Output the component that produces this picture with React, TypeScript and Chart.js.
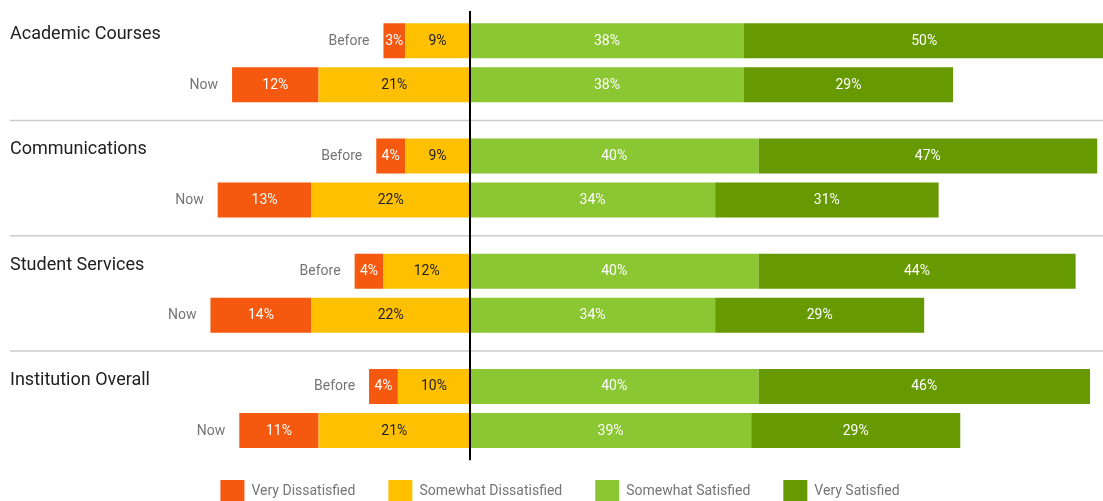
import React, { useEffect, useRef } from "react";
import { Chart, registerables } from "chart.js";

Chart.register(...registerables);

const categories = ["Academic Courses", "Communications", "Student Services", "Institution Overall"];
const periods = ["Before", "Now"];
const legendLabels = ["Very Dissatisfied", "Somewhat Dissatisfied", "Somewhat Satisfied", "Very Satisfied"];

const veryDissatisfiedBefore = [3, 4, 4, 4];
const veryDissatisfiedNow = [12, 13, 14, 11];
const somewhatDissatisfiedBefore = [9, 9, 12, 10];
const somewhatDissatisfiedNow = [21, 22, 22, 21];
const somewhatSatisfiedBefore = [38, 40, 40, 40];
const somewhatSatisfiedNow = [38, 34, 34, 39];
const verySatisfiedBefore = [50, 47, 44, 46];
const verySatisfiedNow = [29, 31, 29, 29];

const COLORS = ["#F4590F", "#FFC000", "#8AC732", "#669A00"];
const TEXT_COLORS = ["#ffffff", "#212121", "#ffffff", "#ffffff"];

function buildDatasets() {
  const series = [
    { cat: 1, before: somewhatDissatisfiedBefore, now: somewhatDissatisfiedNow, neg: true },
    { cat: 0, before: veryDissatisfiedBefore, now: veryDissatisfiedNow, neg: true },
    { cat: 2, before: somewhatSatisfiedBefore, now: somewhatSatisfiedNow, neg: false },
    { cat: 3, before: verySatisfiedBefore, now: verySatisfiedNow, neg: false },
  ];
  const out: any[] = [];
  periods.forEach((p, pi) => {
    series.forEach((s) => {
      const vals = pi === 0 ? s.before : s.now;
      out.push({
        label: legendLabels[s.cat],
        stack: p,
        data: vals.map((v) => (s.neg ? -v : v)),
        backgroundColor: COLORS[s.cat],
        borderWidth: 0,
        clip: false,
        catIndex: s.cat,
        periodIndex: pi,
        labelColor: TEXT_COLORS[s.cat],
      });
    });
  });
  return out;
}

const overlayPlugin = {
  id: "overlay",
  afterDatasetsDraw(chart: any) {
    const ctx = chart.ctx;
    const xs = chart.scales.x;
    const ys = chart.scales.y;
    const band = ys.getPixelForValue(1) - ys.getPixelForValue(0);
    ctx.save();

    // separators
    ctx.strokeStyle = "#cccccc";
    ctx.lineWidth = 1.5;
    for (let i = 0; i < categories.length - 1; i++) {
      const yy = (ys.getPixelForValue(i) + ys.getPixelForValue(i + 1)) / 2;
      ctx.beginPath();
      ctx.moveTo(10, yy);
      ctx.lineTo(chart.width, yy);
      ctx.stroke();
    }

    // group titles
    ctx.font = "18px Roboto";
    ctx.fillStyle = "#212121";
    ctx.textAlign = "left";
    ctx.textBaseline = "middle";
    categories.forEach((c, i) => {
      ctx.fillText(c, 10, ys.getPixelForValue(i) - band * 0.245);
    });

    // segment labels
    ctx.font = "14px Roboto";
    ctx.textAlign = "center";
    const leftMost: Record<string, { x: number; y: number }> = {};
    chart.data.datasets.forEach((ds: any, di: number) => {
      const meta = chart.getDatasetMeta(di);
      meta.data.forEach((el: any, j: number) => {
        const v = Math.abs(ds.data[j]);
        const cx = (el.x + el.base) / 2;
        ctx.fillStyle = ds.labelColor;
        ctx.fillText(v + "%", cx, el.y + 0.5);
        const key = ds.stack + "_" + j;
        const left = Math.min(el.x, el.base);
        if (!leftMost[key] || left < leftMost[key].x) leftMost[key] = { x: left, y: el.y };
      });
    });

    // row labels
    ctx.fillStyle = "#757575";
    ctx.textAlign = "right";
    Object.keys(leftMost).forEach((k) => {
      const name = k.split("_")[0];
      ctx.fillText(name, leftMost[k].x - 14, leftMost[k].y + 0.5);
    });

    // center line
    const x0 = xs.getPixelForValue(0);
    ctx.strokeStyle = "#000000";
    ctx.lineWidth = 2;
    ctx.beginPath();
    ctx.moveTo(x0, ys.getPixelForValue(0) - band * 0.45);
    ctx.lineTo(x0, ys.getPixelForValue(categories.length - 1) + band * 0.45);
    ctx.stroke();
    ctx.restore();
  },
};

export default function App() {
  const ref = useRef<HTMLCanvasElement | null>(null);
  useEffect(() => {
    if (!ref.current) return;
    Chart.defaults.font.family = "Roboto";
    const chart = new Chart(ref.current, {
      type: "bar",
      data: { labels: categories, datasets: buildDatasets() },
      options: {
        indexAxis: "y",
        responsive: false,
        animation: false,
        events: [],
        layout: { padding: { top: 62.75, left: 17, right: 0, bottom: 0 } },
        datasets: { bar: { categoryPercentage: 0.7636, barPercentage: 0.7955 } },
        scales: {
          x: {
            stacked: true,
            min: -62.83,
            max: 87.8,
            display: true,
            grid: { display: false },
            border: { display: false },
            ticks: { display: false },
            afterFit: (s: any) => {
              s.height = 38.5;
            },
          },
          y: {
            stacked: true,
            display: false,
            offset: false,
          },
        },
        plugins: {
          tooltip: { enabled: false },
          legend: {
            position: "bottom",
            maxHeight: 54,
            labels: {
              boxWidth: 24,
              boxHeight: 22,
              padding: 33,
              color: "#757575",
              font: { family: "Roboto", size: 14 },
              filter: (item: any, data: any) => data.datasets[item.datasetIndex].periodIndex === 0,
              sort: (a: any, b: any, data: any) =>
                data.datasets[a.datasetIndex].catIndex - data.datasets[b.datasetIndex].catIndex,
            },
          },
        },
      } as any,
      plugins: [overlayPlugin],
    });
    return () => chart.destroy();
  }, []);
  return (
    <div style={{ position: "absolute", left: 0, top: 0, width: 1103, height: 501, overflow: "hidden", background: "#fff" }}>
      <canvas ref={ref} width={1103} height={501} />
    </div>
  );
}
